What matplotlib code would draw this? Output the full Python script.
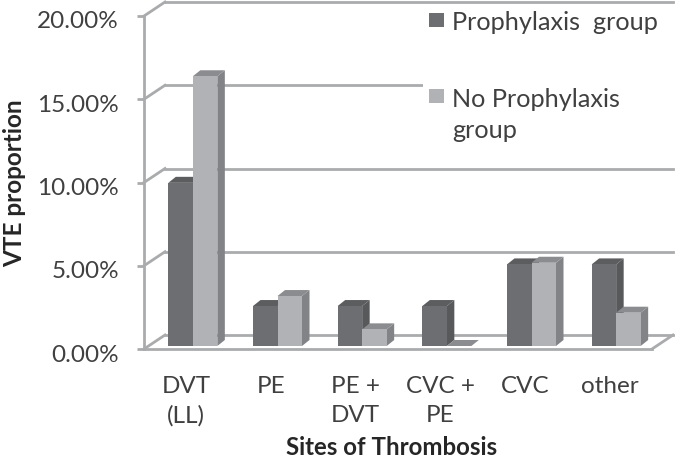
import matplotlib
matplotlib.use('Agg')
import matplotlib.pyplot as plt
from matplotlib.patches import Polygon, Rectangle
from matplotlib.transforms import ScaledTranslation

plt.rcParams['font.family'] = ['Lato', 'DejaVu Sans']

categories = ['DVT\n(LL)', 'PE', 'PE +\nDVT', 'CVC +\nPE', 'CVC', 'other']
prophylaxis = [9.8, 2.4, 2.4, 2.4, 4.9, 4.9]
no_prophylaxis = [16.2, 3.0, 1.0, 0.0, 5.0, 2.0]
yticks = [0, 5, 10, 15, 20]
ytick_labels = ['0.00%', '5.00%', '10.00%', '15.00%', '20.00%']

W, H = 676, 460
fig = plt.figure(figsize=(W / 100, H / 100), dpi=100)
# axes box in pixels: front of the fake 3d box
left, right, top, bottom = 144, 652, 17, 350
ax = fig.add_axes([left / W, 1 - bottom / H, (right - left) / W, (bottom - top) / H])
ax.set_xlim(0, 6)
ax.set_ylim(0, 20)

px = 6 / (right - left)
py = 20 / (bottom - top)
wall_dx, wall_dy = 21 * px, 14 * py   # depth of the box
bar_dx, bar_dy = 7.5 * px, 6 * py     # depth of a bar
base = 3 * py
bar_w = 24.5 * px
shift = 6.5 * px

dark = ['#6d6e71', '#58595b', '#5c5d5f']
light = ['#b1b2b5', '#818386', '#8b8c8f']
grid_c = '#a9abad'
text_c = '#404040'


def bar3d(x, v, cols, z):
    # side and top faces, the front is a normal bar
    side = [(x + bar_w, base), (x + bar_w + bar_dx, base + bar_dy),
            (x + bar_w + bar_dx, base + v + bar_dy), (x + bar_w, base + v)]
    roof = [(x, base + v), (x + bar_dx, base + v + bar_dy),
            (x + bar_w + bar_dx, base + v + bar_dy), (x + bar_w, base + v)]
    ax.add_patch(Polygon(side, fc=cols[1], ec='none', zorder=z, clip_on=False))
    ax.add_patch(Polygon(roof, fc=cols[2], ec='none', zorder=z, clip_on=False))


xs = [i + 0.5 + shift for i in range(len(categories))]
for i, x in enumerate(xs):
    bar3d(x - bar_w, prophylaxis[i], dark, 4)
    bar3d(x, no_prophylaxis[i], light, 6)

ax.bar([x - bar_w for x in xs], prophylaxis, bar_w, bottom=base, align='edge',
       color=dark[0], zorder=5)
ax.bar(xs, no_prophylaxis, bar_w, bottom=base, align='edge',
       color=light[0], zorder=7)

# back wall lines and their diagonals
for t in yticks:
    ax.plot([0, wall_dx], [t, t + wall_dy], color=grid_c, lw=2, zorder=2, clip_on=False)
    ax.plot([wall_dx, 6 + wall_dx], [t + wall_dy, t + wall_dy], color=grid_c, lw=2,
            zorder=2, clip_on=False)
# right edge of the floor
ax.plot([6, 6 + wall_dx], [0, wall_dy], color=grid_c, lw=2, zorder=2, clip_on=False)

for s in ['top', 'right']:
    ax.spines[s].set_visible(False)
for s in ['left', 'bottom']:
    ax.spines[s].set_color(grid_c)
    ax.spines[s].set_linewidth(2)

ax.set_yticks(yticks)
ax.set_yticklabels(ytick_labels, fontsize=17.5, color=text_c)
ax.tick_params(axis='y', length=5, width=2, color=grid_c, pad=13)
# labels sit a little below their ticks
down = ScaledTranslation(0, -3 / 100, fig.dpi_scale_trans)
for lab in ax.get_yticklabels():
    lab.set_transform(lab.get_transform() + down)
ax.set_xticks([i + 0.5 for i in range(len(categories))])
ax.set_xticklabels(categories, fontsize=17.5, color=text_c, linespacing=1.5)
ax.tick_params(axis='x', length=0, pad=18.5)
ax.patch.set_alpha(0)

fig.text(392 / W, 1 - 448 / H, 'Sites of Thrombosis', fontsize=17.3, fontweight='bold',
         color='#262626', ha='center', va='center')
fig.text(15 / W, 1 - 183 / H, 'VTE proportion', fontsize=17.5, fontweight='bold',
         color='#262626', rotation=90, ha='center', va='center')

# legend by hand: the swatch sits on the first line of the label
fig.add_artist(Rectangle((423 / W, 1 - 145 / H), 253 / W, 137 / H, fc='white', ec='none',
                         transform=fig.transFigure, zorder=3))
fig.add_artist(Rectangle((429 / W, 1 - 28 / H), 15 / W, 14 / H, fc=dark[0], ec='none',
                         transform=fig.transFigure, zorder=4))
fig.add_artist(Rectangle((429 / W, 1 - 104 / H), 15 / W, 14 / H, fc=light[0], ec='none',
                         transform=fig.transFigure, zorder=4))
fig.text(452 / W, 1 - 22 / H, 'Prophylaxis  group', fontsize=18.2, color=text_c,
         va='center', zorder=5)
fig.text(452 / W, 1 - 115 / H, 'No Prophylaxis\ngroup', fontsize=18.2, color=text_c,
         va='center', linespacing=1.45, zorder=5)

fig.savefig('out.png', dpi=100)
